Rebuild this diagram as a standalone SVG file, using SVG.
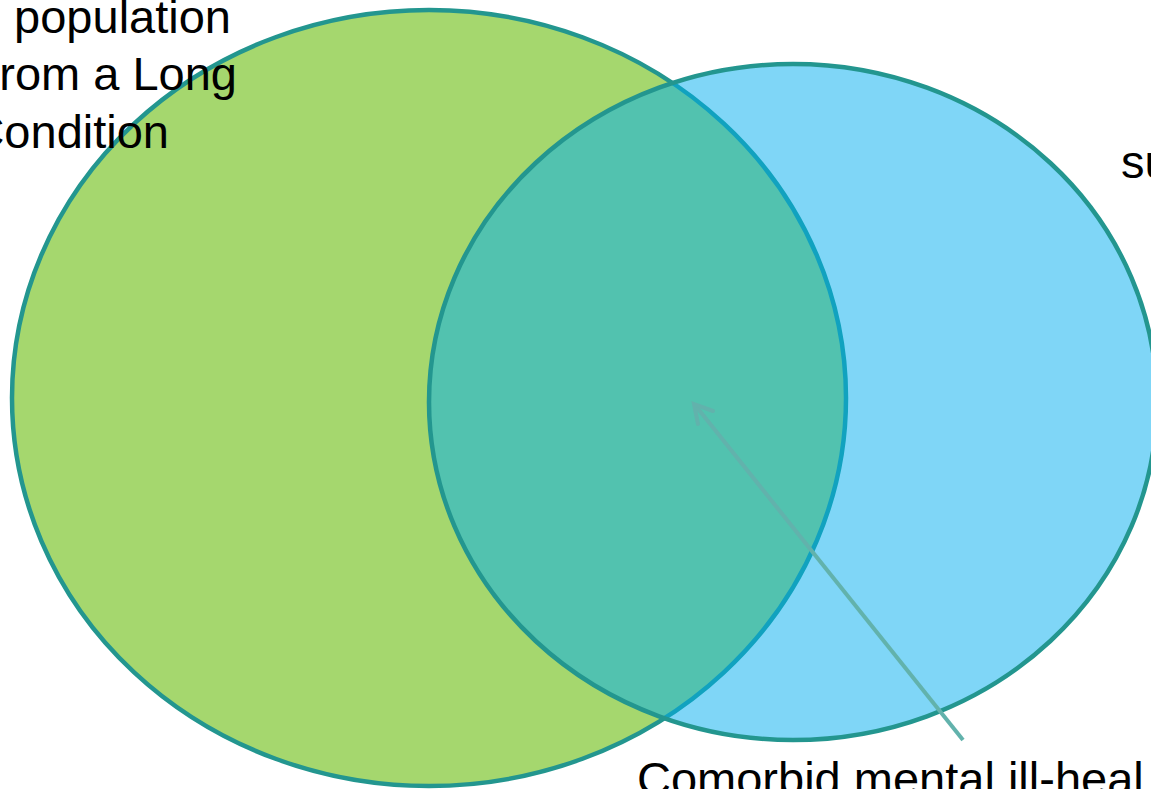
<svg xmlns="http://www.w3.org/2000/svg" width="1151" height="789" viewBox="0 0 1151 789">
<style>
.lbl{font-family:"Liberation Sans",Arial,sans-serif;font-size:47px;fill:#000}
.circ{stroke:#23968F;stroke-width:4.5}
.conn{stroke:#62B2AC;stroke-width:4;fill:none}
</style>
<rect width="1151" height="789" fill="#fff"/>
<g id="node-ltc">
<ellipse class="circ" cx="429" cy="398" rx="417" ry="388" fill="#A5D76E"/>
</g>
<g id="node-mh">
<ellipse cx="793" cy="402" rx="364" ry="338" fill="#00ADEF" fill-opacity="0.5" stroke="none"/>
<ellipse class="circ" cx="793" cy="402" rx="364" ry="338" fill="none"/>
</g>
<g id="labels">
<text class="lbl" x="231" y="33" text-anchor="end">population</text>
<text class="lbl" x="237" y="90" text-anchor="end">rom a Long</text>
<text class="lbl" x="169" y="148" text-anchor="end">Condition</text>
<text class="lbl" x="1121" y="178">su</text>
<text class="lbl" x="637" y="795">Comorbid mental ill-heal</text>
</g>
<g id="connectors">
<path class="conn" d="M963,740 L695,405"/>
<path class="conn" d="M713,411 L694,404 L698,424" stroke-width="4.5" stroke-linecap="round"/>
</g>
</svg>
